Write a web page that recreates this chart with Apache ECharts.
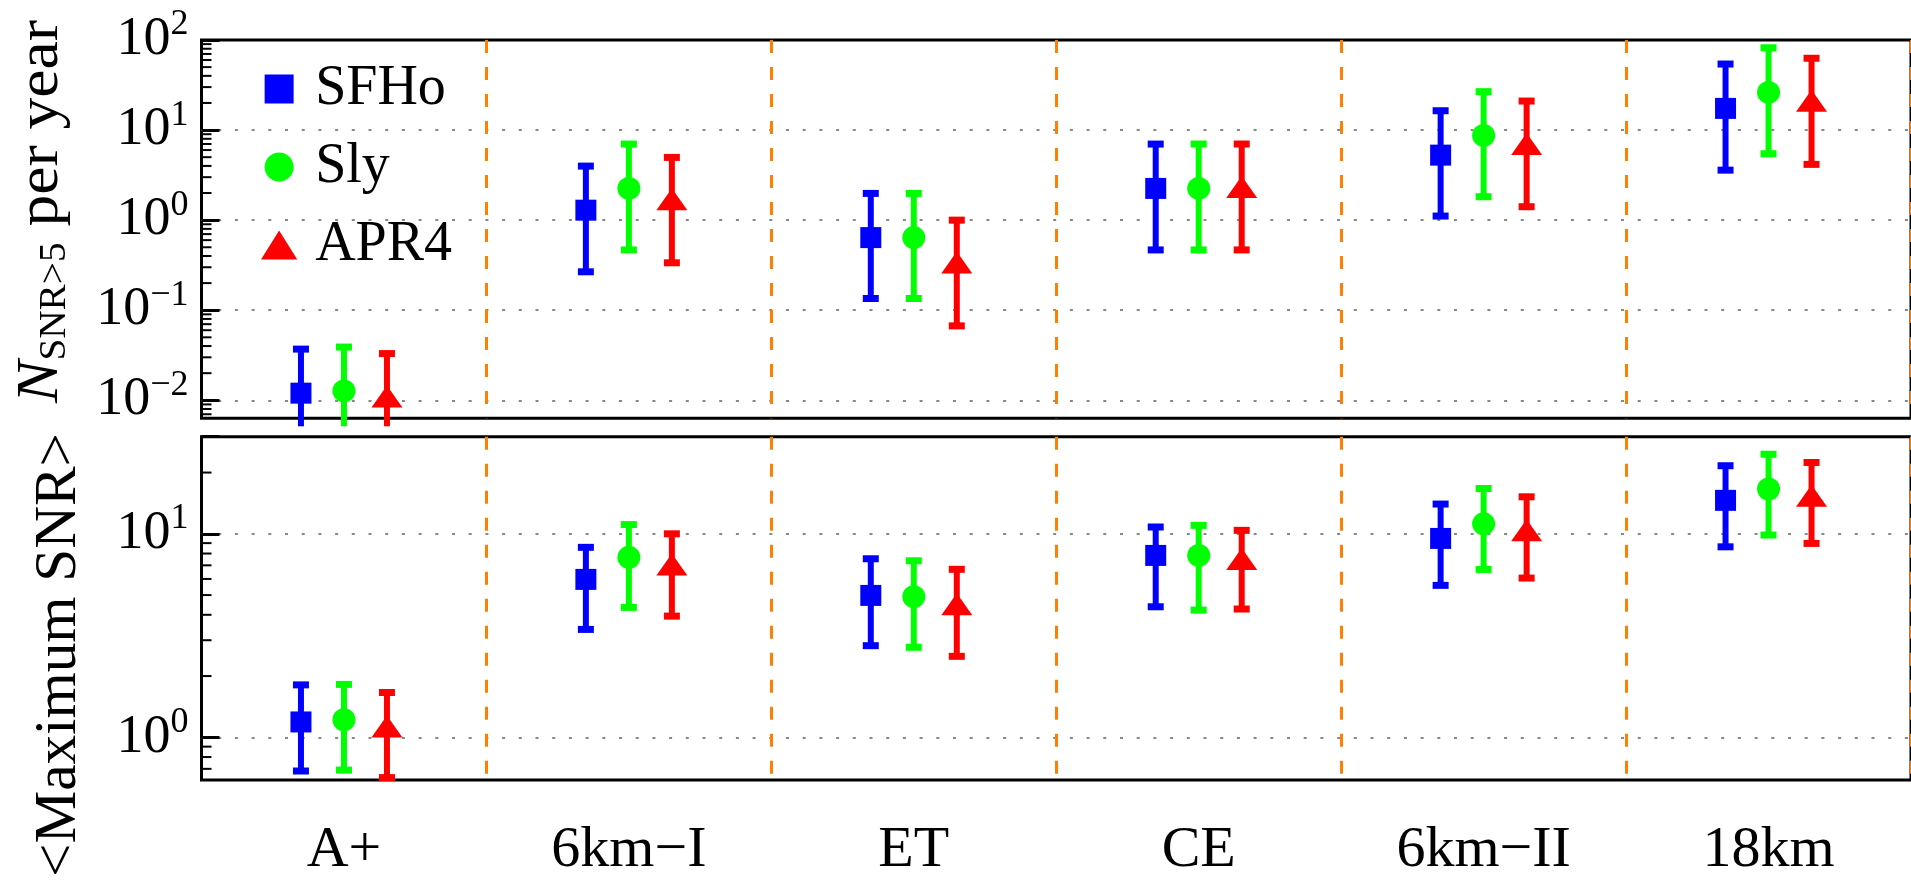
<!DOCTYPE html>
<html><head><meta charset="utf-8">
<script src="https://cdn.jsdelivr.net/npm/echarts@6/dist/echarts.min.js"></script>
<style>html,body{margin:0;padding:0;background:#fff}#c{width:1911px;height:880px}</style>
</head><body><div id="c"></div>
<script>
// ---------------- data ----------------
const detectors = ['A+', '6km\u2212I', 'ET', 'CE', '6km\u2212II', '18km'];
const eosNames = ['SFHo', 'Sly', 'APR4'];

// Top panel: N_{SNR>5} per year (central, lower, upper)
const rateSFHo     = [0.012, 1.29, 0.64, 2.25, 5.27, 17.4];
const rateSFHoLow  = [0.0025, 0.267, 0.135, 0.467, 1.11, 3.59];
const rateSFHoHigh = [0.037, 3.98, 1.98, 6.99, 16.4, 54.1];
const rateSly      = [0.0127, 2.25, 0.64, 2.25, 8.73, 26.2];
const rateSlyLow   = [0.0026, 0.467, 0.135, 0.467, 1.82, 5.46];
const rateSlyHigh  = [0.039, 6.99, 1.98, 7.0, 26.7, 82];
const rateAPR4     = [0.011, 1.71, 0.339, 2.33, 7.01, 21.1];
const rateAPR4Low  = [0.0022, 0.336, 0.067, 0.467, 1.41, 4.16];
const rateAPR4High = [0.033, 4.97, 1.0, 7.0, 21.0, 62.7];

// Bottom panel: <Maximum SNR> (central, lower, upper)
const snrSFHo     = [1.19, 5.97, 4.98, 7.83, 9.49, 14.6];
const snrSFHoLow  = [0.683, 3.39, 2.82, 4.38, 5.58, 8.63];
const snrSFHoHigh = [1.81, 8.58, 7.54, 10.8, 14.0, 21.6];
const snrSly      = [1.22, 7.66, 4.91, 7.83, 11.2, 16.6];
const snrSlyLow   = [0.69, 4.35, 2.77, 4.22, 6.68, 9.86];
const snrSlyHigh  = [1.82, 11.1, 7.37, 11.0, 16.7, 24.6];
const snrAPR4     = [1.13, 7.07, 4.51, 7.53, 10.4, 15.4];
const snrAPR4Low  = [0.634, 3.94, 2.50, 4.27, 6.06, 8.97];
const snrAPR4High = [1.66, 10.0, 6.69, 10.4, 15.2, 22.4];

// axis ranges and minor tick marks
const topRange = [0.00631, 100];
const bottomRange = [0.617, 30];
const minorMantissas = [2, 3, 4, 5, 6, 7, 8, 9];
const topDecades = [0.001, 0.01, 0.1, 1, 10];
const bottomDecades = [0.1, 1, 10];

// ---------------- helpers ----------------
const FONTNAME = "'Liberation Serif', 'DejaVu Serif', serif";
const FONT = FONTNAME;
const colors = ['#0000FF', '#00FF00', '#FF0000'];
const symbols = ['rect', 'circle', 'triangle'];
const symbolSizes = [21, 23, [31, 22]];
const offsets = [-43, 0, 43];

const mctx = document.createElement('canvas').getContext('2d');
function textW(font, s) { mctx.font = font; return mctx.measureText(s).width; }

function minorTicks(decades, range) {
  const out = [];
  decades.forEach(d => minorMantissas.forEach(m => {
    const v = m * d;
    if (v > range[0] && v < range[1]) out.push([0, v]);
  }));
  return out;
}

function labelFmt(v) {
  const e = Math.round(Math.log10(v));
  if (Math.abs(Math.log10(v) - e) > 1e-6) return '';
  return '{b|10}{s|' + (e < 0 ? '\u2212' + (-e) : e) + '}';
}

function errSeries(name, gi, k, low, high) {
  return {
    type: 'custom', name: name + ' err', xAxisIndex: gi, yAxisIndex: gi,
    clip: false, z: 2, silent: true,
    itemStyle: { color: colors[k] },
    data: low.map((lo, i) => [i, lo, high[i]]),
    renderItem: function (params, api) {
      const cat = api.value(0), lo = api.value(1), hi = api.value(2);
      const cs = params.coordSys;
      const pLo = api.coord([cat, lo]);
      const pHi = api.coord([cat, hi]);
      const x = pLo[0] + offsets[k];
      const limit = cs.y + cs.height + 8;
      let yLo = pLo[1], loCap = true;
      if (yLo > limit) { yLo = limit; loCap = false; }
      const c = colors[k];
      const ch = [
        { type: 'line', shape: { x1: x, y1: yLo, x2: x, y2: pHi[1] }, style: { stroke: c, lineWidth: 6 } },
        { type: 'rect', shape: { x: x - 8, y: pHi[1] - 3.5, width: 16, height: 7 }, style: { fill: c } }
      ];
      if (loCap) ch.push({ type: 'rect', shape: { x: x - 8, y: yLo - 3.5, width: 16, height: 7 }, style: { fill: c } });
      return { type: 'group', children: ch };
    }
  };
}

function pointSeries(name, gi, k, vals) {
  return {
    type: 'scatter', name: name, xAxisIndex: gi, yAxisIndex: gi, z: 3,
    symbol: symbols[k], symbolSize: symbolSizes[k], symbolOffset: [offsets[k], 0],
    itemStyle: { color: colors[k], opacity: 1 },
    data: vals.map((v, i) => [i, v]), silent: true
  };
}

function tickSeries(gi, data) {
  return {
    type: 'custom', xAxisIndex: gi, yAxisIndex: gi, clip: false, z: 4, silent: true,
    data: data,
    renderItem: function (params, api) {
      const cs = params.coordSys;
      const y = api.coord([0, api.value(1)])[1];
      return { type: 'line', shape: { x1: cs.x, y1: y, x2: cs.x + 10, y2: y }, style: { stroke: '#000', lineWidth: 2 } };
    }
  };
}

const xAxisBase = (gi, showLabels) => ({
  gridIndex: gi, type: 'category', data: detectors, boundaryGap: true,
  axisLine: { show: false }, axisTick: { show: false },
  axisLabel: { show: showLabels, fontFamily: FONT, fontSize: 58, color: '#000', margin: 42 },
  splitLine: {
    show: true, interval: function (idx) { return idx > 0; },
    lineStyle: { color: '#FF8000', width: 3, type: [13, 14] }
  }
});

const yAxisBase = (gi, range) => ({
  gridIndex: gi, type: 'log', logBase: 10, min: range[0], max: range[1],
  axisLine: { show: false },
  axisTick: { show: true, inside: true, length: 18, lineStyle: { color: '#000', width: 3 } },
  axisLabel: {
    show: true, formatter: labelFmt, margin: 13, align: 'right', color: '#000',
    showMinLabel: false,
    rich: {
      b: { fontFamily: FONT, fontSize: 54, lineHeight: 66, color: '#000' },
      s: { fontFamily: FONT, fontSize: 36, lineHeight: 36, verticalAlign: 'top', color: '#000' }
    }
  },
  splitLine: { show: true, showMinLine: false, showMaxLine: false, lineStyle: { color: '#888', width: 2, type: [3, 13.7] } }
});

const series = [];
const topVals = [[rateSFHo, rateSFHoLow, rateSFHoHigh], [rateSly, rateSlyLow, rateSlyHigh], [rateAPR4, rateAPR4Low, rateAPR4High]];
const botVals = [[snrSFHo, snrSFHoLow, snrSFHoHigh], [snrSly, snrSlyLow, snrSlyHigh], [snrAPR4, snrAPR4Low, snrAPR4High]];
eosNames.forEach((n, k) => {
  series.push(errSeries(n, 0, k, topVals[k][1], topVals[k][2]));
  series.push(errSeries(n, 1, k, botVals[k][1], botVals[k][2]));
});
eosNames.forEach((n, k) => {
  series.push(pointSeries(n, 0, k, topVals[k][0]));
  series.push(pointSeries(n, 1, k, botVals[k][0]));
});
series.push(tickSeries(0, minorTicks(topDecades, topRange)));
series.push(tickSeries(1, minorTicks(bottomDecades, bottomRange)));

// axis titles: stretch along their reading direction to the reference length
const topTitleLen = textW('italic 60px ' + FONTNAME, 'N') + textW('37px ' + FONTNAME, 'SNR>5') + textW('60px ' + FONTNAME, ' per year');
const botTitleLen = textW('60px ' + FONTNAME, '<Maximum SNR>');
const topScale = 383 / topTitleLen;
const botScale = 444 / botTitleLen;

const chart = echarts.init(document.getElementById('c'), null, { renderer: 'canvas' });
chart.setOption({
  animation: false,
  backgroundColor: '#fff',
  grid: [
    { left: 201.5, top: 40, width: 1721, height: 378.3, show: true, borderColor: '#000', borderWidth: 3, containLabel: false },
    { left: 201.5, top: 436.7, width: 1721, height: 343.3, show: true, borderColor: '#000', borderWidth: 3, containLabel: false }
  ],
  xAxis: [xAxisBase(0, false), xAxisBase(1, true)],
  yAxis: [yAxisBase(0, topRange), yAxisBase(1, bottomRange)],
  legend: {
    show: true, orient: 'vertical', left: 256, top: 56, itemWidth: 62, itemHeight: 29, itemGap: 22,
    selectedMode: false, symbolKeepAspect: true,
    textStyle: { fontFamily: FONT, fontSize: 56, color: '#000' },
    data: [
      { name: 'SFHo', icon: 'path://M0,0L1,0L1,1L0,1Z' },
      { name: 'Sly', icon: 'circle' },
      { name: 'APR4', icon: 'path://M17.5,0L35,28L0,28Z' }
    ]
  },
  graphic: [
    {
      type: 'text', x: 41, y: 211.5, rotation: Math.PI / 2, scaleX: topScale, silent: true,
      style: {
        text: '{n|N}{s|SNR>5}{t| per year}', align: 'center', verticalAlign: 'middle',
        rich: {
          n: { fontFamily: FONT, fontSize: 60, fontStyle: 'italic', lineHeight: 66, fill: '#000' },
          s: { fontFamily: FONT, fontSize: 37, lineHeight: 37, verticalAlign: 'bottom', fill: '#000' },
          t: { fontFamily: FONT, fontSize: 60, lineHeight: 66, fill: '#000' }
        }
      }
    },
    {
      type: 'text', x: 59, y: 655, rotation: Math.PI / 2, scaleX: botScale, silent: true,
      style: { text: '<Maximum SNR>', fontFamily: FONT, fontSize: 60, fill: '#000', align: 'center', verticalAlign: 'middle' }
    }
  ],
  series: series
});
</script>
</body></html>
